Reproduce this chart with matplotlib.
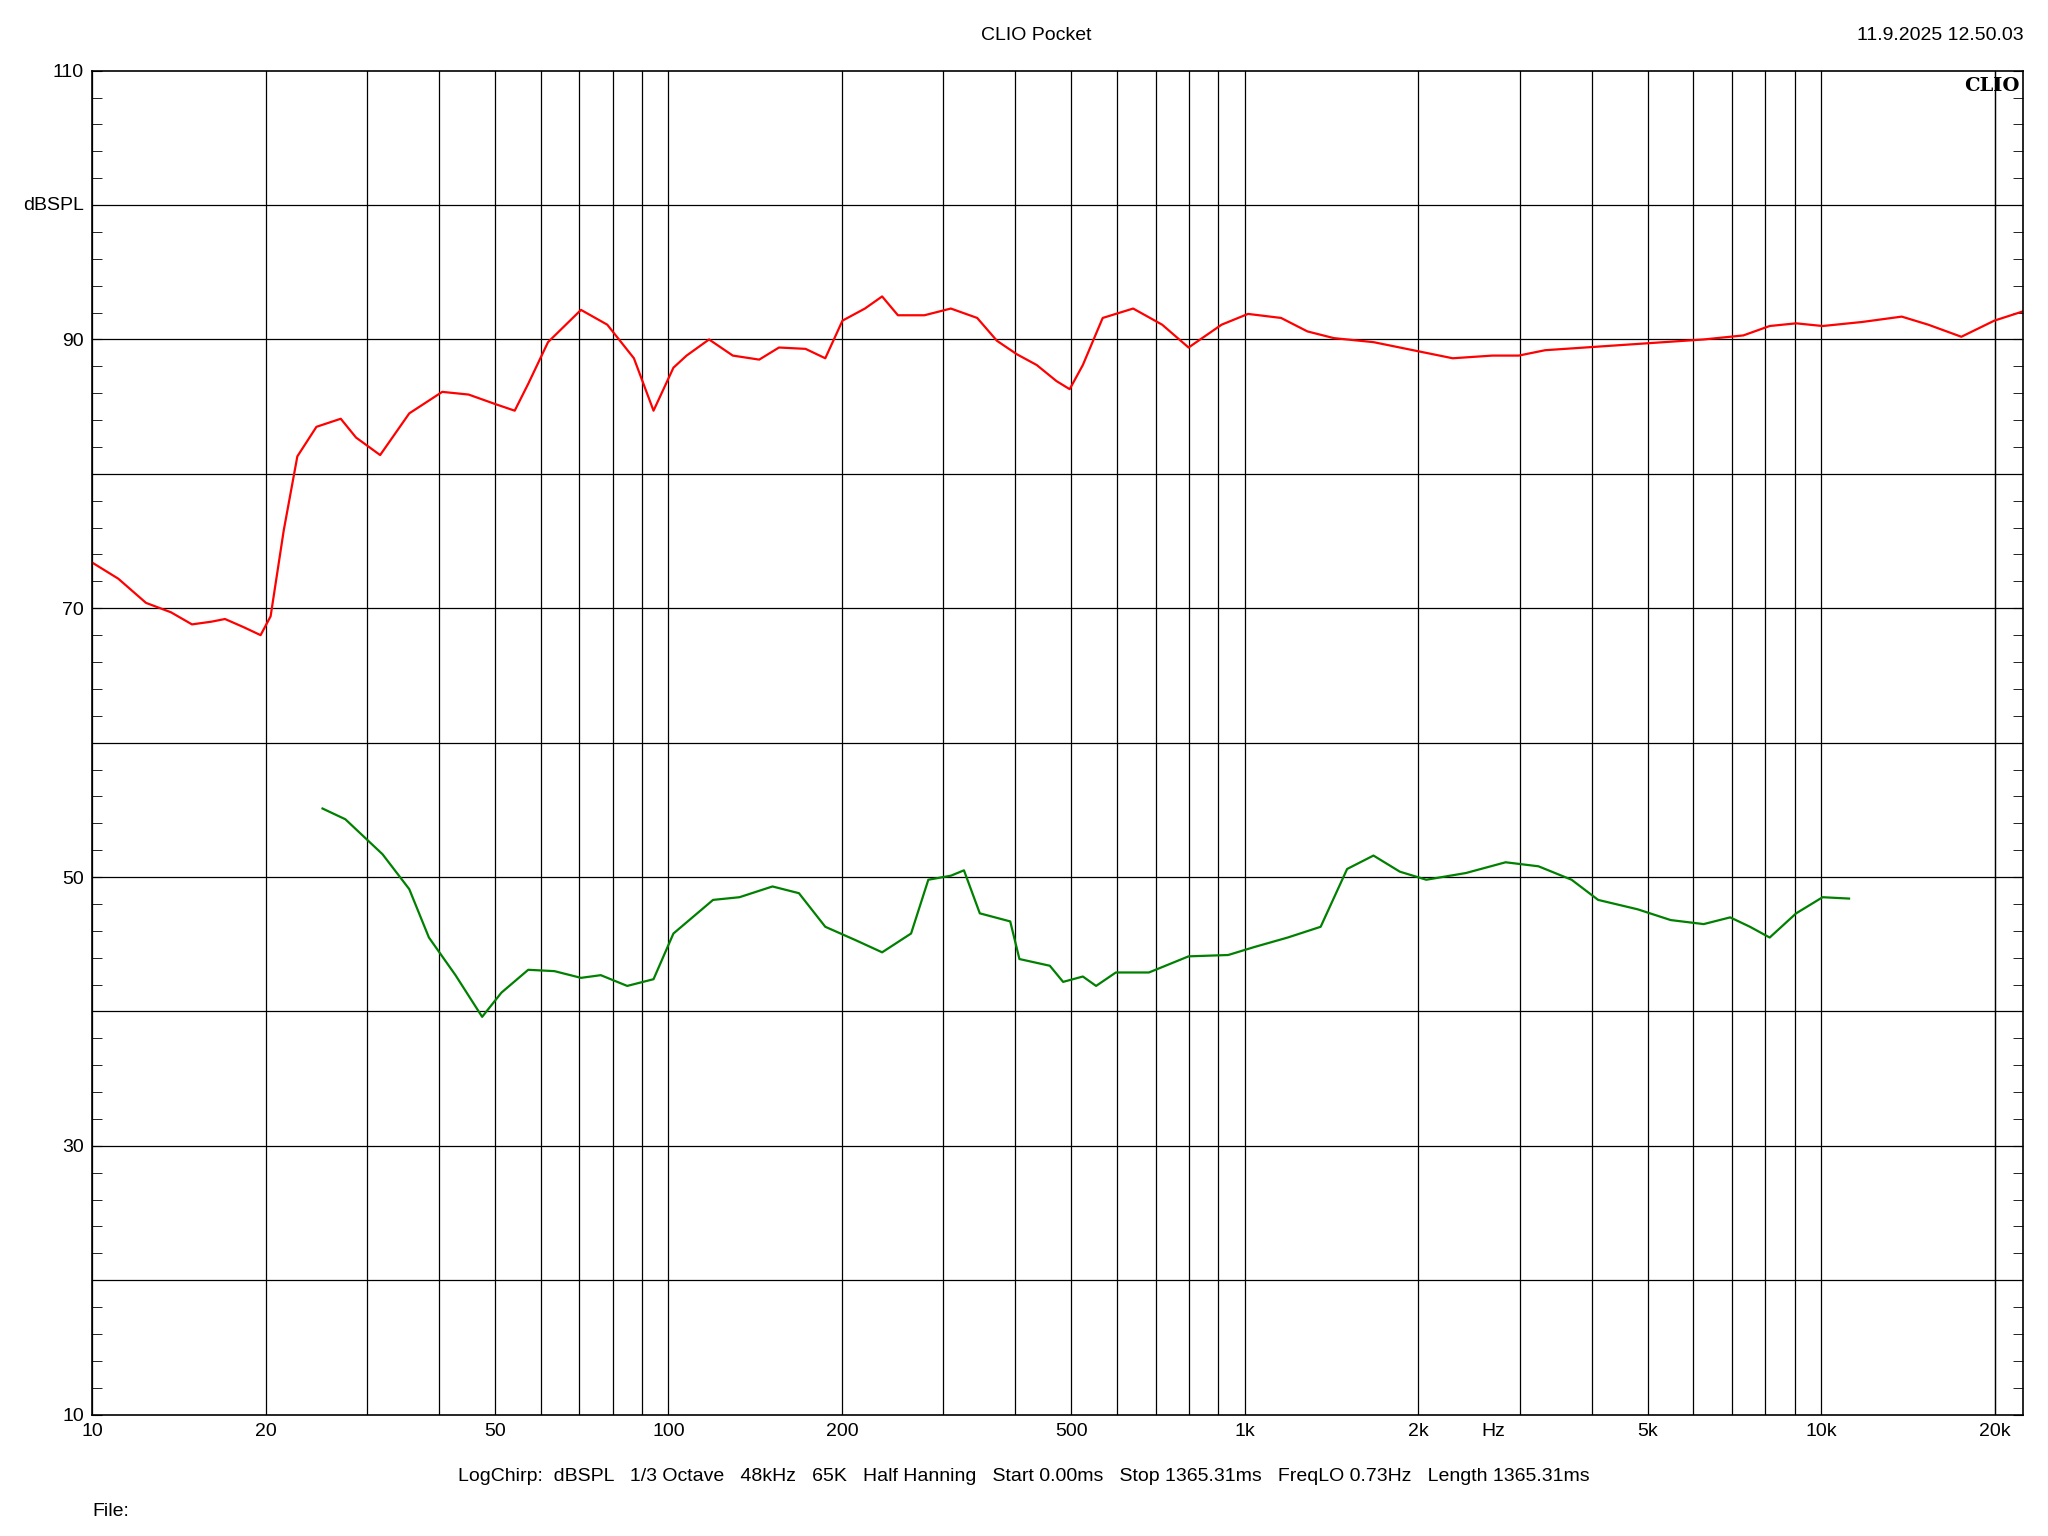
import matplotlib
matplotlib.use("Agg")
import matplotlib.pyplot as plt
from matplotlib.ticker import FixedLocator, NullFormatter, MultipleLocator

plt.rcParams['font.family'] = ['Liberation Sans', 'DejaVu Sans']

# red trace (Hz, dBSPL)
red_f = [10, 11.1, 12.4, 13.7, 14.9, 16.1, 17.0, 18.3, 19.6, 20.4, 21.5, 22.7, 24.5, 27.0, 28.7,
         31.6, 35.5, 40.5, 45.0, 50.0, 54.1, 57.1, 61.8, 70.5, 78.3, 87.1, 94.2, 102, 107.5, 117.6,
         129.3, 143.7, 155.5, 172.9, 187.1, 200.4, 219.2, 234.8, 250.1, 278, 309, 343.3, 371.5,
         402.2, 435.4, 471.3, 496.8, 523.6, 566.8, 640.1, 718.8, 798.8, 911.5, 1013, 1156, 1284,
         1427, 1672, 1959, 2295, 2689, 2988, 3320, 3890, 4557, 5340, 6255, 7328, 8142, 9050,
         10060, 11780, 13800, 15340, 17510, 19980, 22440]
red_db = [73.4, 72.2, 70.4, 69.7, 68.8, 69.0, 69.2, 68.6, 68.0, 69.4, 75.8, 81.3, 83.5, 84.1, 82.7,
          81.4, 84.5, 86.1, 85.9, 85.2, 84.7, 86.7, 89.8, 92.2, 91.1, 88.6, 84.7, 87.9, 88.8, 90.0,
          88.8, 88.5, 89.4, 89.3, 88.6, 91.4, 92.3, 93.2, 91.8, 91.8, 92.3, 91.6, 89.9,
          88.9, 88.1, 86.9, 86.3, 88.1, 91.6, 92.3, 91.1, 89.4, 91.1, 91.9, 91.6, 90.6,
          90.1, 89.8, 89.2, 88.6, 88.8, 88.8, 89.2, 89.4, 89.6, 89.8, 90.0, 90.3, 91.0, 91.2,
          91.0, 91.3, 91.7, 91.1, 90.2, 91.4, 92.1]

# green trace
green_f = [25.1, 27.5, 31.9, 35.5, 38.4, 42.7, 47.5, 51.3, 57.1, 63.4, 70.5, 76.3, 84.8, 94.2, 102,
           119.5, 132.8, 151.5, 168.4, 187.1, 211.3, 234.8, 263.6, 282.4, 309, 325.6, 346.9, 391.7,
           406.4, 458.9, 483.9, 523.6, 552, 597.4, 681.8, 798.8, 935.7, 1040, 1187, 1354, 1505,
           1672, 1858, 2065, 2419, 2835, 3233, 3690, 4103, 4805, 5482, 6255, 6953, 7526, 8142,
           9050, 10060, 11180]
green_db = [55.1, 54.3, 51.7, 49.1, 45.5, 42.7, 39.6, 41.4, 43.1, 43.0, 42.5, 42.7, 41.9, 42.4, 45.8,
            48.3, 48.5, 49.3, 48.8, 46.3, 45.3, 44.4, 45.8, 49.8, 50.1, 50.5, 47.3, 46.7,
            43.9, 43.4, 42.2, 42.6, 41.9, 42.9, 42.9, 44.1, 44.2, 44.8, 45.5, 46.3, 50.6,
            51.6, 50.4, 49.8, 50.3, 51.1, 50.8, 49.8, 48.3, 47.6, 46.8, 46.5, 47.0, 46.3, 45.5,
            47.3, 48.5, 48.4]

grid_x = [d * m for d in (10, 100, 1000, 10000) for m in range(1, 10)] + [20000]
xtick_vals = [10, 20, 50, 100, 200, 500, 1000, 2000, 5000, 10000, 20000]
xtick_labels = ['10', '20', '50', '100', '200', '500', '1k', '2k', '5k', '10k', '20k']
ytick_vals = [10, 30, 50, 70, 90, 110]

fig = plt.figure(figsize=(20.48, 15.36), dpi=100)
ax = fig.add_axes([0.045, 0.079, 0.943, 0.875])
ax.set_xscale('log')
ax.set_xlim(10, 22440)
ax.set_ylim(10, 110)

for gx in grid_x:
    ax.axvline(gx, color='black', lw=0.9)
for gy in range(20, 110, 10):
    ax.axhline(gy, color='black', lw=0.9)

ax.plot(red_f, red_db, color='#ff0000', lw=1.6)
ax.plot(green_f, green_db, color='#008000', lw=1.6)

ax.xaxis.set_major_locator(FixedLocator(xtick_vals))
ax.set_xticklabels(xtick_labels)
ax.xaxis.set_minor_formatter(NullFormatter())
ax.xaxis.set_minor_locator(FixedLocator([]))
ax.set_yticks(ytick_vals)
ax.yaxis.set_minor_locator(MultipleLocator(2))
ax.tick_params(axis='both', labelsize=14, length=0, pad=6)
ax.tick_params(axis='y', which='minor', direction='in', length=7, left=True, right=True)
ax.tick_params(axis='y', which='major', direction='in', left=True, right=True, length=7)
for s in ax.spines.values():
    s.set_linewidth(1.2)

ax.text(-0.004, 100, 'dBSPL', transform=ax.get_yaxis_transform(), ha='right', va='center', fontsize=14)
ax.annotate('Hz', xy=(2700, 10), xytext=(0, -6), textcoords='offset points', ha='center',
            va='top', fontsize=14)
ax.text(0.998, 0.995, 'CLIO', transform=ax.transAxes, ha='right', va='top', fontsize=14,
        fontweight='bold', family='DejaVu Serif')

fig.text(0.506, 0.977, 'CLIO Pocket', ha='center', va='center', fontsize=14)
fig.text(0.988, 0.977, '11.9.2025 12.50.03', ha='right', va='center', fontsize=14)
fig.text(0.5, 0.039, 'LogChirp:  dBSPL   1/3 Octave   48kHz   65K   Half Hanning   Start 0.00ms   '
         'Stop 1365.31ms   FreqLO 0.73Hz   Length 1365.31ms', ha='center', va='center', fontsize=14)
fig.text(0.045, 0.016, 'File:', ha='left', va='center', fontsize=14)

fig.savefig('out.png', dpi=100, facecolor='white')
